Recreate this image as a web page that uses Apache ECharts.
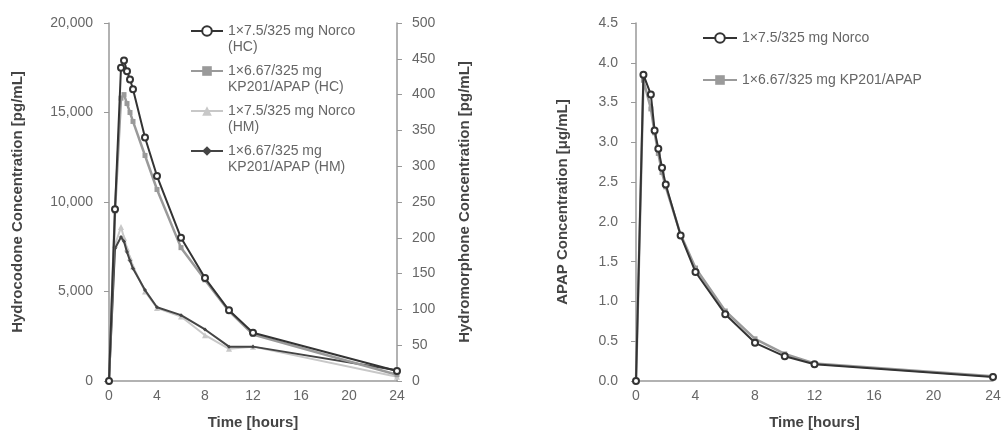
<!DOCTYPE html>
<html><head><meta charset="utf-8">
<script src="https://cdn.jsdelivr.net/npm/echarts@6/dist/echarts.min.js"></script>
<style>html,body{margin:0;padding:0;background:#fff}#c{width:1005px;height:437px}</style>
</head><body><div id="c"></div>
<script>
const timeHours = [0, 0.5, 1, 1.25, 1.5, 1.75, 2, 3, 4, 6, 8, 10, 12, 24];
const norcoHC = [0, 9600, 17500, 17900, 17300, 16850, 16300, 13600, 11450, 8000, 5750, 3950, 2700, 560];
const kp201HC = [0, 9500, 15800, 16000, 15500, 15000, 14500, 12600, 10700, 7450, 5650, 3900, 2600, 350];
const norcoHM = [0, 190, 215, 200, 185, 172, 160, 125, 102, 90, 64, 45, 48, 6];
const kp201HM = [0, 185, 201, 195, 180, 168, 157, 127, 103, 92, 72, 48, 48, 15];
const norcoAPAP = [0, 3.85, 3.6, 3.15, 2.92, 2.68, 2.47, 1.83, 1.37, 0.84, 0.48, 0.31, 0.21, 0.05];
const kp201APAP = [0, 3.78, 3.42, 3.12, 2.86, 2.62, 2.44, 1.84, 1.42, 0.88, 0.53, 0.34, 0.22, 0.06];
const leftNames = ['1×7.5/325 mg Norco\n(HC)', '1×6.67/325 mg\nKP201/APAP (HC)', '1×7.5/325 mg Norco\n(HM)', '1×6.67/325 mg\nKP201/APAP (HM)'];
const rightNames = ['1×7.5/325 mg Norco', '1×6.67/325 mg KP201/APAP'];

const pair = arr => arr.map((v, i) => [timeHours[i], v]);
const FONT = 'Liberation Sans';
const axisLine = {show: true, lineStyle: {color: '#999', width: 1.5}};
const tickLbl = {color: '#666', fontSize: 14, fontFamily: FONT};
const nameStyle = {color: '#444', fontSize: 15, fontWeight: 'bold', fontFamily: FONT};
function xAx(gi) {
  return {type: 'value', gridIndex: gi, min: 0, max: 24, interval: 4, axisLine: axisLine,
    axisTick: {show: false}, splitLine: {show: false}, axisLabel: Object.assign({margin: 8}, tickLbl),
    name: 'Time [hours]', nameLocation: 'middle', nameGap: 34, nameTextStyle: nameStyle};
}
function ser(name, data, xi, yi, color, sym, symSize, lw, z) {
  return {name: name, type: 'line', xAxisIndex: xi, yAxisIndex: yi, data: pair(data),
    symbol: sym, symbolSize: symSize, showSymbol: true, z: z,
    lineStyle: {color: color, width: lw}, itemStyle: {color: color, borderWidth: 1.3},
    emphasis: {disabled: true}, animation: false};
}
const option = {
  animation: false,
  textStyle: {fontFamily: FONT},
  grid: [
    {left: 109, right: 608, top: 23, bottom: 56},
    {left: 636, right: 12, top: 23, bottom: 56}
  ],
  xAxis: [xAx(0), xAx(1)],
  yAxis: [
    {type: 'value', gridIndex: 0, min: 0, max: 20000, interval: 5000, axisLine: axisLine,
      axisTick: {show: true, length: 5, lineStyle: {color: '#999'}}, splitLine: {show: false},
      axisLabel: Object.assign({margin: 16, formatter: v => v.toLocaleString('en-US')}, tickLbl),
      name: 'Hydrocodone Concentration [pg/mL]', nameLocation: 'middle', nameGap: 84, nameRotate: 90, nameTextStyle: nameStyle},
    {type: 'value', gridIndex: 0, position: 'right', min: 0, max: 500, interval: 50, axisLine: axisLine,
      axisTick: {show: true, length: 5, lineStyle: {color: '#999'}}, splitLine: {show: false},
      axisLabel: Object.assign({margin: 15}, tickLbl),
      name: 'Hydromorphone Concentration [pg/mL]', nameLocation: 'middle', nameGap: 60, nameRotate: 90, nameTextStyle: nameStyle},
    {type: 'value', gridIndex: 1, min: 0, max: 4.5, interval: 0.5, axisLine: axisLine,
      axisTick: {show: true, length: 5, lineStyle: {color: '#999'}}, splitLine: {show: false},
      axisLabel: Object.assign({margin: 18, formatter: v => v.toFixed(1)}, tickLbl),
      name: 'APAP Concentration [μg/mL]', nameLocation: 'middle', nameGap: 66, nameRotate: 90, nameTextStyle: nameStyle}
  ],
  legend: [
    {data: leftNames, orient: 'vertical', left: 190, top: 7, padding: 0, itemWidth: 32, itemHeight: 12, itemGap: -8,
      formatter: n => '\n' + n,
      textStyle: {color: '#666', fontSize: 14, fontFamily: FONT, lineHeight: 16}, selectedMode: false},
    {data: rightNames, orient: 'vertical', left: 702, top: 31, padding: 0, itemWidth: 34, itemHeight: 12, itemGap: 28,
      textStyle: {color: '#666', fontSize: 14, fontFamily: FONT}, selectedMode: false}
  ],
  series: [
    ser(leftNames[3], kp201HM, 0, 1, '#444', 'diamond', 4, 2, 3),
    ser(leftNames[2], norcoHM, 0, 1, '#c8c8c8', 'triangle', 6, 2, 2),
    ser(leftNames[1], kp201HC, 0, 0, '#9a9a9a', 'rect', 5, 2.5, 4),
    ser(leftNames[0], norcoHC, 0, 0, '#333', 'emptyCircle', 6, 2, 5),
    ser(rightNames[1], kp201APAP, 1, 2, '#9a9a9a', 'rect', 5, 2.5, 4),
    ser(rightNames[0], norcoAPAP, 1, 2, '#333', 'emptyCircle', 6, 2, 5)
  ]
};
const chart = echarts.init(document.getElementById('c'), null, {renderer: 'canvas'});
chart.setOption(option);
</script></body></html>
